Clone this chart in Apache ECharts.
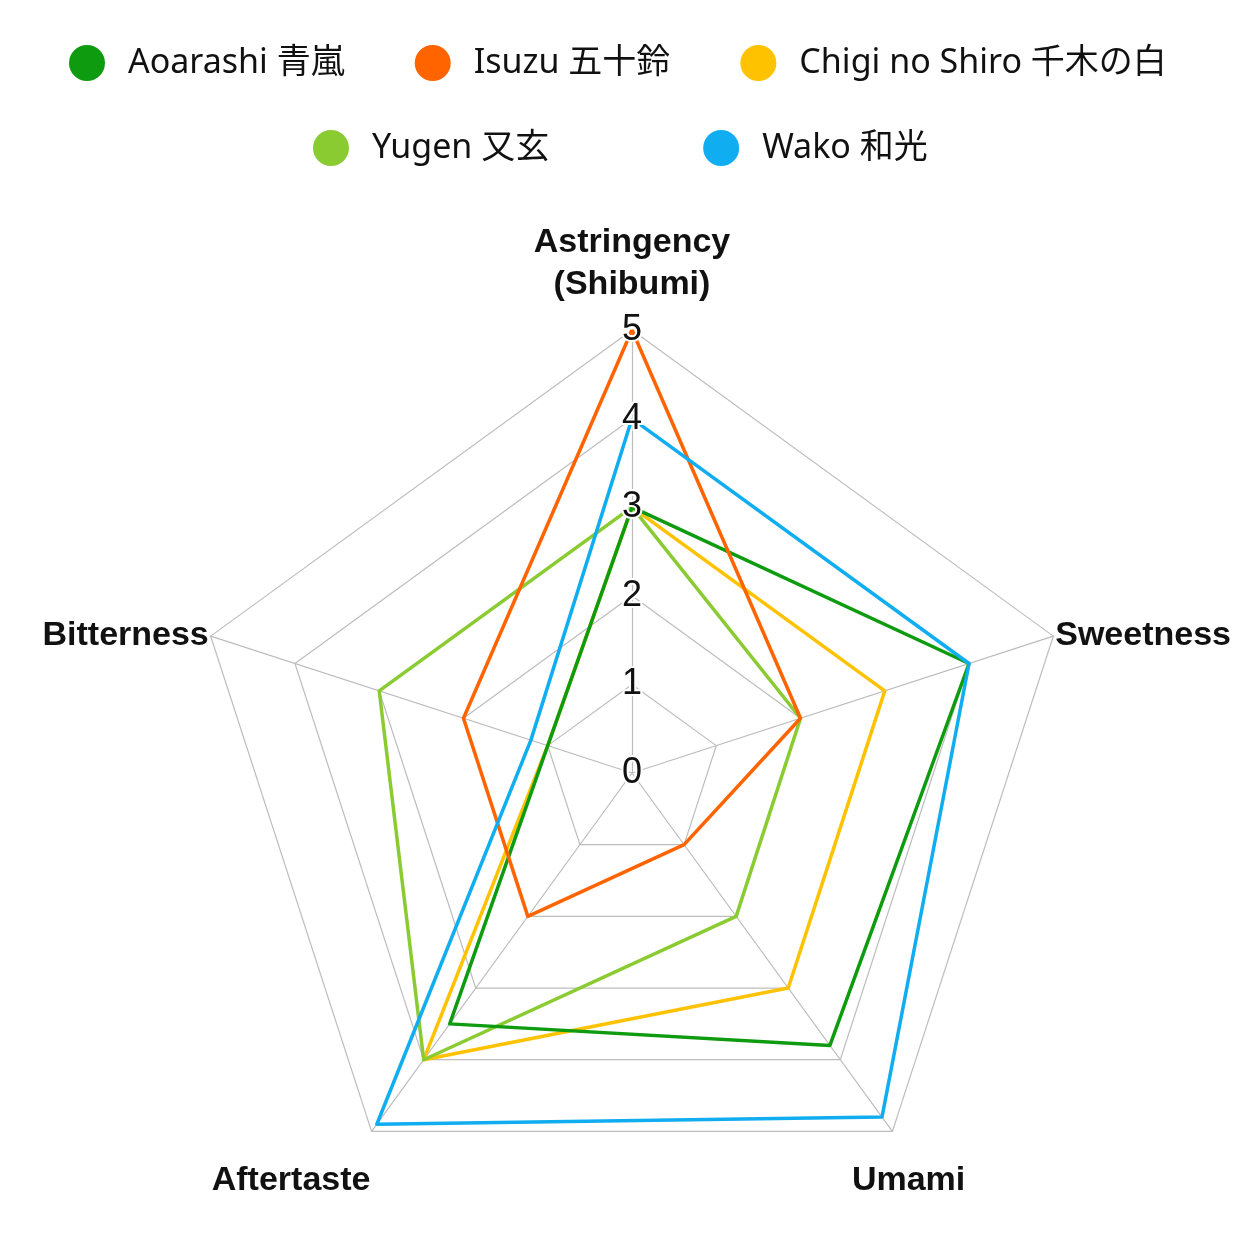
<!DOCTYPE html>
<html><head><meta charset="utf-8">
<script src="https://cdn.jsdelivr.net/npm/echarts@6/dist/echarts.min.js"></script>
<style>html,body{margin:0;padding:0;background:#fff}#c{width:1254px;height:1254px}</style>
</head><body><div id="c"></div>
<script>
// Indicators in counterclockwise order starting from the top
const indicators = ['Astringency\n(Shibumi)', 'Bitterness', 'Aftertaste', 'Umami', 'Sweetness'];
const maxValue = 5;
const seriesNames = ['Aoarashi 青嵐', 'Isuzu 五十鈴', 'Chigi no Shiro 千木の白', 'Yugen 又玄', 'Wako 和光'];
const seriesColors = ['#0f9b0f', '#ff6400', '#ffc200', '#8acb32', '#10adf0'];
// values in indicator order: Astringency, Bitterness, Aftertaste, Umami, Sweetness
const aoarashi = [3, 1, 3.5, 3.8, 4];
const isuzu = [5, 2, 2, 1, 2];
const chigi = [3, 1, 4, 3, 3];
const yugen = [3, 3, 4, 2, 2];
const wako = [4, 1.2, 4.9, 4.8, 4];
const allValues = [aoarashi, isuzu, chigi, yugen, wako];
const drawOrder = [2, 3, 0, 1, 4];

const nameStyles = [
  {padding: [0, 0, 22, 0]},
  {align: 'right', verticalAlign: 'middle', padding: [0, 0, 10, 0]},
  {align: 'right', verticalAlign: 'top', padding: [27, 0, 0, 0]},
  {align: 'center', verticalAlign: 'top', padding: [27, 0, 0, 30]},
  {align: 'left', verticalAlign: 'middle', padding: [0, 0, 10, 0]}
];

const chart = echarts.init(document.getElementById('c'), null, {renderer: 'canvas'});
const legendText = {fontSize: 34, color: '#111', fontFamily: "'Noto Sans', 'Noto Sans CJK JP', sans-serif", padding: [0, 0, 0, 18]};
const gridBase = {center: [632, 773], radius: 443, startAngle: 90, splitNumber: 5, shape: 'polygon'};
const option = {
  backgroundColor: '#ffffff',
  color: seriesColors,
  legend: [
    {data: seriesNames.slice(0, 3), top: 40, left: 64, icon: 'circle', itemWidth: 36, itemHeight: 36, itemGap: 70, textStyle: legendText},
    {data: seriesNames.slice(3), top: 125, left: 308, icon: 'circle', itemWidth: 36, itemHeight: 36, itemGap: 154, textStyle: legendText}
  ],
  radar: [
    Object.assign({}, gridBase, {
      nameGap: 2,
      axisName: {color: '#111', fontSize: 34, fontWeight: 'bold', fontFamily: "'Liberation Sans', Arial, sans-serif", lineHeight: 42},
      splitArea: {show: false},
      splitLine: {lineStyle: {color: '#bdbdbd', width: 1.2}},
      axisLine: {lineStyle: {color: '#bdbdbd', width: 1.2}},
      axisLabel: {show: false},
      indicator: indicators.map((n, i) => ({name: n, min: 0, max: maxValue, nameTextStyle: nameStyles[i]}))
    }),
    Object.assign({}, gridBase, {
      z: 10,
      axisName: {show: false},
      splitArea: {show: false},
      splitLine: {show: false},
      axisLine: {show: false},
      axisTick: {show: false},
      axisLabel: {show: false},
      indicator: indicators.map((n, i) => {
        const ind = {name: n, min: 0, max: maxValue};
        if (i === 0) {
          ind.axisLabel = {show: true, margin: 0, align: 'center', verticalAlign: 'middle', fontSize: 36, color: '#111', fontFamily: "'Liberation Sans', Arial, sans-serif", textBorderColor: '#fff', textBorderWidth: 4};
        }
        return ind;
      })
    })
  ],
  series: [{
    type: 'radar',
    radarIndex: 0,
    symbol: 'none',
    lineStyle: {width: 3.5},
    data: drawOrder.map(k => ({
      name: seriesNames[k],
      value: allValues[k],
      itemStyle: {color: seriesColors[k]},
      lineStyle: {color: seriesColors[k], width: 3.5}
    }))
  }]
};
chart.setOption(option);
</script></body></html>
